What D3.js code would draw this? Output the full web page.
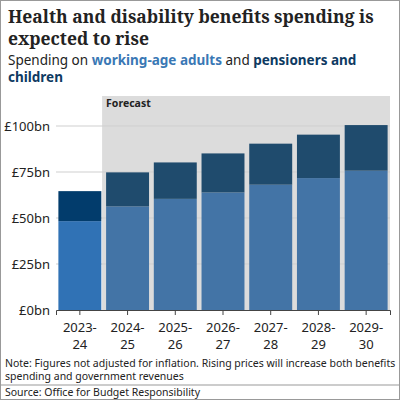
<!DOCTYPE html>
<html><head><meta charset="utf-8">
<script src="https://cdn.jsdelivr.net/npm/d3@7"></script>
<style>
body{margin:0;background:#fff;font-family:"Noto Sans",sans-serif}
svg{display:block}
</style></head><body>
<svg id="c" width="400" height="400"></svg>
<script>
const years = ['2023-24','2024-25','2025-26','2026-27','2027-28','2028-29','2029-30']
const working = [48.3,56.3,60.4,63.9,68.1,71.7,75.7]
const pensioners = [16.3,18.5,19.8,21.2,22.3,23.6,24.8]
const ticks = [0,25,50,75,100]

const svg = d3.select('#c')
svg.append('rect').attr('x',0.5).attr('y',0.5).attr('width',399).attr('height',399).attr('fill','#fff').attr('stroke','#999')

const t = svg.append('text').attr('font-family','"Noto Serif","DejaVu Serif",serif').attr('font-size',17.5).attr('font-weight','bold').attr('fill','#222')
t.append('tspan').attr('x',8).attr('y',23).text('Health and disability benefits spending is')
t.append('tspan').attr('x',8).attr('y',45).text('expected to rise')
const s = svg.append('text').attr('font-size',13.5).attr('fill','#222')
s.append('tspan').attr('x',8).attr('y',65).text('Spending on ')
s.append('tspan').attr('font-weight','bold').attr('fill','#3a78b5').text('working-age adults')
s.append('tspan').text(' and ')
s.append('tspan').attr('font-weight','bold').attr('fill','#0e3a62').text('pensioners and')
s.append('tspan').attr('x',8).attr('y',82).attr('font-weight','bold').attr('fill','#0e3a62').text('children')

const x = d3.scaleBand().domain(years).range([56,390]).paddingInner(0.1).paddingOuter(0.05)
const y = d3.scaleLinear().domain([0,100]).range([310,126])

svg.append('rect').attr('x',x(years[1])-4).attr('y',96).attr('width',390-x(years[1])+4).attr('height',310-96).attr('fill','#dcdcdc')
svg.append('text').attr('x',x(years[1])).attr('y',107).attr('font-size',10.5).attr('font-weight','bold').attr('fill','#222').text('Forecast')

ticks.forEach(v=>{
  if(v>0) svg.append('line').attr('x1',56).attr('x2',390).attr('y1',y(v)).attr('y2',y(v)).attr('stroke','#cfcfcf')
  svg.append('text').attr('x',50).attr('y',y(v)+5).attr('text-anchor','end').attr('font-size',13).attr('fill','#222').text('£'+v+'bn')
})

years.forEach((yr,i)=>{
  const f = i>0
  svg.append('rect').attr('x',x(yr)).attr('width',x.bandwidth()).attr('y',y(working[i])).attr('height',y(0)-y(working[i])).attr('fill',f?'#4374a6':'#3072b5')
  svg.append('rect').attr('x',x(yr)).attr('width',x.bandwidth()).attr('y',y(working[i]+pensioners[i])).attr('height',y(working[i])-y(working[i]+pensioners[i])).attr('fill',f?'#1f4b6d':'#023c6c')
})

const xa = svg.append('g').attr('transform','translate(0,310)').call(d3.axisBottom(x).tickSize(5).tickFormat(''))
xa.select('.domain').attr('stroke','#444')
xa.selectAll('line').attr('stroke','#444')
years.forEach(yr=>{
  const [a,b] = yr.split('-')
  const tx = svg.append('text').attr('text-anchor','middle').attr('font-size',13).attr('fill','#222')
  tx.append('tspan').attr('x',x(yr)+x.bandwidth()/2).attr('y',332).text(a+'-')
  tx.append('tspan').attr('x',x(yr)+x.bandwidth()/2).attr('y',349).text(b)
})

const n = svg.append('text').attr('font-size',10.5).attr('fill','#222')
n.append('tspan').attr('x',5).attr('y',367).text('Note: Figures not adjusted for inflation. Rising prices will increase both benefits')
n.append('tspan').attr('x',5).attr('y',380).text('spending and government revenues')
svg.append('line').attr('x1',0).attr('x2',400).attr('y1',385).attr('y2',385).attr('stroke','#999')
svg.append('text').attr('x',5).attr('y',396).attr('font-size',10.5).attr('fill','#222').text('Source: Office for Budget Responsibility')
</script></body></html>
